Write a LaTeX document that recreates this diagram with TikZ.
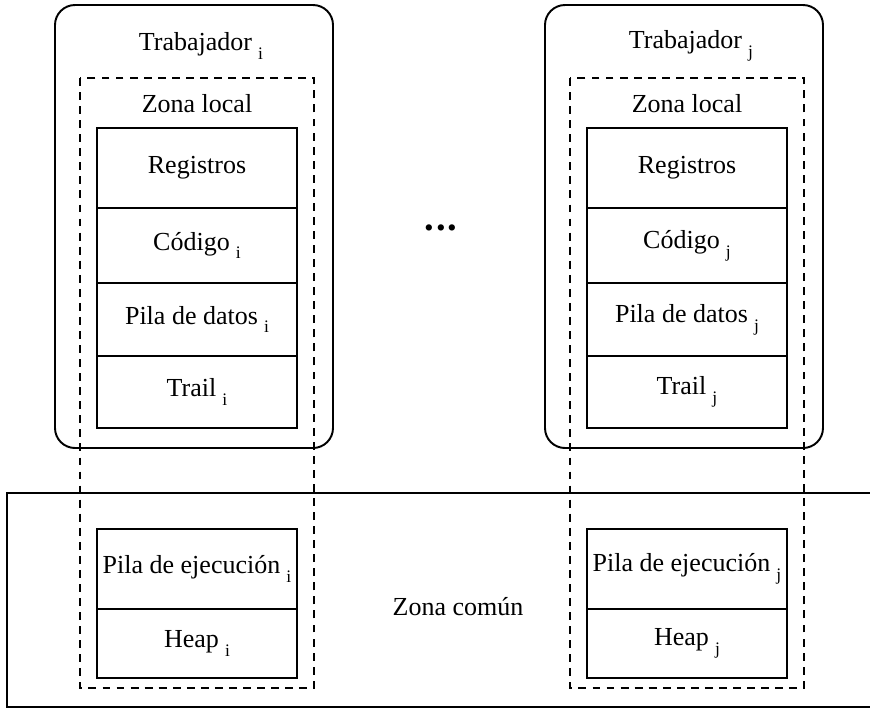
\documentclass[tikz,border=0pt]{standalone}
\usepackage{fontspec}
\setmainfont{Liberation Serif}
\usetikzlibrary{positioning}
\newcommand{\idx}[1]{\hspace{3.5pt}\raisebox{-5pt}{\fontsize{10}{10}\selectfont #1}}

\begin{document}
\begin{tikzpicture}[x=0.02cm, y=-0.02cm, font=\fontsize{14.8}{17}\selectfont,
    worker/.style={draw, line width=1.1pt, rounded corners=0.4cm},
    zone/.style={draw, line width=1pt, dash pattern=on 4.5pt off 3.5pt},
    common/.style={draw, line width=1.1pt},
    cell/.style={draw, line width=1.1pt, minimum width=4cm, inner sep=0pt, outer sep=0pt, anchor=north}]
    \useasboundingbox (0,0) rectangle (870,711);

    % zona comun
    \draw[common] (870,493) -| (7,707) -- (870,707);
    \node (comun) at (458,607) {Zona común};

    % trabajadores
    \foreach \dx/\k in {0/i, 490/j} {
        \draw[worker] (55+\dx,5) rectangle (333+\dx,448);
        \node (trab\k) at (201+\dx,46) {Trabajador\idx{\k}};
        \draw[zone] (80+\dx,78) rectangle (314+\dx,688);
        \node (local\k) at (197+\dx,104) {Zona local};
        \node[cell, minimum height=1.6cm] (reg\k) at (197+\dx,128) {Registros};
        \node[cell, minimum height=1.5cm, below=0pt of reg\k] (cod\k) {Código\idx{\k}};
        \node[cell, minimum height=1.46cm, below=0pt of cod\k] (datos\k) {Pila de datos\idx{\k}};
        \node[cell, minimum height=1.44cm, below=0pt of datos\k] (trail\k) {Trail\idx{\k}};
        \node[cell, minimum height=1.6cm] (ejec\k) at (197+\dx,529) {Pila de ejecución\idx{\k}};
        \node[cell, minimum height=1.38cm, below=0pt of ejec\k] (heap\k) {Heap\idx{\k}};
    }

    \node (dots) at (441,228) {\fontsize{22}{22}\selectfont\textbf{.\hspace{1pt}.\hspace{1pt}.}};
\end{tikzpicture}
\end{document}
